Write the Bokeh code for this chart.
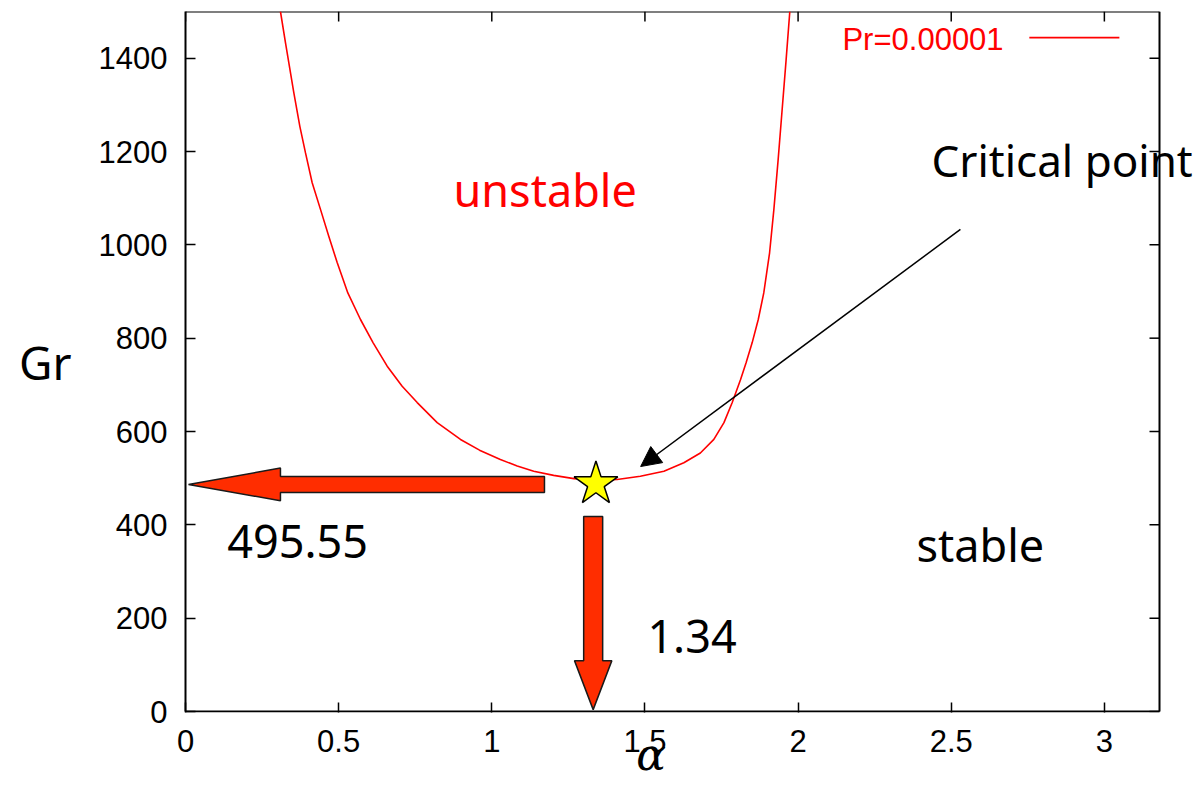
from bokeh.plotting import figure
from bokeh.models import Range1d, Label, Arrow, NormalHead, FixedTicker, ColumnDataSource
from bokeh.embed import file_html
from bokeh.resources import INLINE

# ---- data ----
series_name = "Pr=0.00001"
alpha = [0.310, 0.3265, 0.3536, 0.3733, 0.3918, 0.4136, 0.4407, 0.4680, 0.4952, 0.5300,
         0.5713, 0.6127, 0.6585, 0.7074, 0.7565, 0.8217, 0.8978, 0.960, 1.028, 1.083,
         1.137, 1.202, 1.268, 1.340, 1.409, 1.485, 1.562, 1.627, 1.681, 1.725,
         1.758, 1.785, 1.812, 1.830, 1.850, 1.870, 1.888, 1.907, 1.921, 1.935,
         1.948, 1.961, 1.973]
gr = [1500, 1433, 1326, 1254, 1197, 1133, 1076, 1018, 962, 897,
      840, 790, 740, 697, 662, 619, 583, 560, 540, 526,
      515, 506, 499, 495.55, 497, 504, 515, 533, 554, 583,
      619, 662, 711, 747, 790, 840, 897, 983, 1076, 1183,
      1290, 1397, 1500]
alpha_c = 1.34
gr_c = 495.55
x_ticks = [0, 0.5, 1, 1.5, 2, 2.5, 3]
y_ticks = [0, 200, 400, 600, 800, 1000, 1200, 1400]
X_MAX = 3.18
Y_MAX = 1500

TXT = "Noto Sans"
TICKF = "Liberation Sans"

# geometry of the frame (pixels)
LEFT, TOP, BOTTOM_B = 185, 11, 73
W, H = 1200, 785
PX_X = (1159 - 185) / X_MAX          # px per alpha unit
FRAME_H = H - TOP - BOTTOM_B
PX_Y = 700 / Y_MAX                   # px per Gr unit
y_lo = -1.0 / PX_Y
y_hi = y_lo + FRAME_H / PX_Y
x_hi = (W - LEFT) / PX_X

p = figure(width=W, height=H, x_range=Range1d(0, x_hi), y_range=Range1d(y_lo, y_hi),
           output_backend="svg", toolbar_location=None,
           min_border_left=LEFT, min_border_right=0, min_border_top=TOP,
           min_border_bottom=BOTTOM_B)
p.grid.visible = False
p.outline_line_color = None
p.background_fill_color = "white"
p.border_fill_color = "white"

xa, ya = p.xaxis[0], p.yaxis[0]
for ax, ticks in ((xa, x_ticks), (ya, y_ticks)):
    ax.ticker = FixedTicker(ticks=ticks)
    ax.major_tick_in = 10
    ax.major_tick_out = 0
    ax.minor_tick_line_color = None
    ax.axis_line_width = 2
    ax.major_tick_line_width = 1.5
    ax.major_label_text_font = TICKF
    ax.major_label_text_font_size = "31px"
    ax.major_label_text_color = "black"

ya.bounds = (0, Y_MAX)
xa.bounds = (0, 3.04)
xa.axis_line_color = None
xa.major_label_standoff = 17
ya.major_label_standoff = 18

ya.axis_label = "Gr"
ya.axis_label_text_font = TXT
ya.axis_label_text_font_size = "46px"
ya.axis_label_text_font_style = "normal"
ya.axis_label_text_color = "black"
ya.axis_label_standoff = 24
try:
    ya.axis_label_orientation = "horizontal"
except Exception:
    pass

# trailing no-break spaces shift the centred alpha to the left, as in the reference
xa.axis_label = "α" + "\u00a0" * 6
xa.axis_label_text_font = "DejaVu Serif"
xa.axis_label_text_font_size = "44px"
xa.axis_label_text_font_style = "italic"
xa.axis_label_text_color = "black"
xa.axis_label_standoff = -26

# frame spines (bottom, top, right) and mirrored ticks
p.segment(x0=[0, 0, X_MAX], y0=[0, Y_MAX, 0], x1=[X_MAX, X_MAX, X_MAX], y1=[0, Y_MAX, Y_MAX],
          line_color="black", line_width=2)
tick_dy = 10 / PX_Y
tick_dx = 10 / PX_X
p.segment(x0=x_ticks, y0=[Y_MAX] * len(x_ticks), x1=x_ticks, y1=[Y_MAX - tick_dy] * len(x_ticks),
          line_color="black", line_width=1.5)
p.segment(x0=[X_MAX] * len(y_ticks), y0=y_ticks, x1=[X_MAX - tick_dx] * len(y_ticks), y1=y_ticks,
          line_color="black", line_width=1.5)

# neutral curve
src = ColumnDataSource(dict(alpha=alpha, gr=gr))
p.line("alpha", "gr", source=src, line_color="#ff0000", line_width=1.6)

# block arrows pointing at the critical values
ARROW_FILL = "#ff2d00"
hy = gr_c - 9
hx = [0.0098, 0.310, 0.310, 1.172, 1.172, 0.310, 0.310]
hys = [hy, hy + 35, hy + 17, hy + 17, hy - 17, hy - 17, hy - 35]
p.patch(hx, hys, fill_color=ARROW_FILL, line_color="#1a1a1a", line_width=1.5)

vx0 = alpha_c - 0.009
vxs = [vx0 - 0.031, vx0 + 0.031, vx0 + 0.031, vx0 + 0.061, vx0, vx0 - 0.061, vx0 - 0.031]
vys = [418, 418, 109, 109, 4, 109, 109]
p.patch(vxs, vys, fill_color=ARROW_FILL, line_color="#1a1a1a", line_width=1.5)

# critical point star
p.scatter([alpha_c], [gr_c - 8], marker="star", size=46, fill_color="#ffff00",
          line_color="black", line_width=1.5)

# thin pointer arrow
p.add_layout(Arrow(end=NormalHead(size=20, fill_color="black", line_color="black"),
                   x_start=2.53, y_start=1033, x_end=1.486, y_end=525,
                   line_color="black", line_width=1.5))

# legend (gnuplot style: label left, sample right)
p.segment(x0=[2.755], y0=[1444], x1=[3.049], y1=[1444], line_color="#ff0000", line_width=1.6)
p.add_layout(Label(x=2.671, y=1419 + 10 / PX_Y, text=series_name, text_font=TICKF,
                   text_font_size="31px", text_color="#ff0000", text_align="right",
                   text_baseline="alphabetic"))

# annotations
LIFT = 17 / PX_Y
def lab(x, y, t, color="black", size="45px"):
    p.add_layout(Label(x=x, y=y + LIFT, text=t, text_font=TXT, text_font_size=size,
                       text_color=color, text_align="left", text_baseline="alphabetic"))

lab(2.4355, 1146, "Critical point", size="44px")
lab(0.875, 1082, "unstable", "#ff0000")
lab(2.3865, 321, "stable")
lab(0.136, 328, f"{gr_c:.2f}")
lab(1.508, 124, f"{alpha_c:.2f}")

open("out.html", "w").write(file_html(p, INLINE))
